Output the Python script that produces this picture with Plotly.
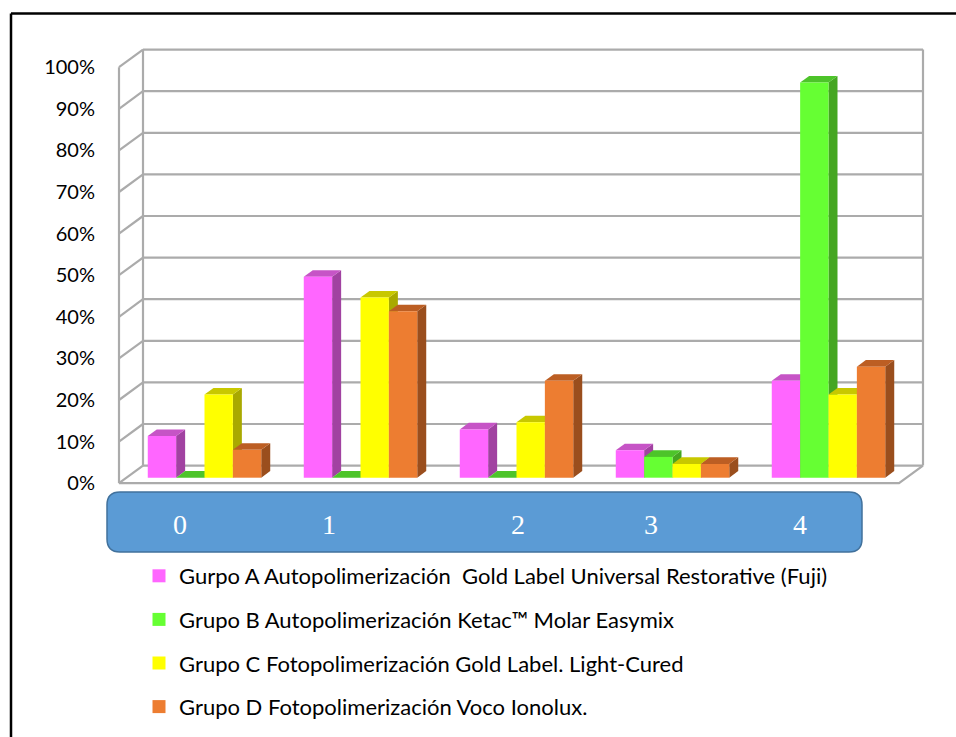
import plotly.graph_objects as go

# ---- data -------------------------------------------------------------
categories = ["0", "1", "2", "3", "4"]
series_names = [
    "Gurpo A Autopolimerización \u00a0Gold Label Universal Restorative (Fuji)",
    "Grupo B Autopolimerización Ketac™ Molar Easymix",
    "Grupo C Fotopolimerización Gold Label. Light-Cured",
    "Grupo D Fotopolimerización Voco Ionolux.",
]
grupo_a = [10.0, 48.3, 11.6, 6.6, 23.3]
grupo_b = [0.0, 0.0, 0.0, 5.0, 95.0]
grupo_c = [20.0, 43.3, 13.3, 3.3, 20.0]
grupo_d = [6.7, 40.0, 23.3, 3.3, 26.7]
y_ticks = [0, 10, 20, 30, 40, 50, 60, 70, 80, 90, 100]
y_tick_labels = [f"{t}%" for t in y_ticks]

series_values = [grupo_a, grupo_b, grupo_c, grupo_d]

# ---- styling ------------------------------------------------------------
front_colors = ["#FF66FF", "#66FF33", "#FFFF00", "#ED7D31"]
top_colors = ["#C654C6", "#4DC42A", "#C8C800", "#BC5E23"]
side_colors = ["#A142A1", "#45A622", "#A9A900", "#9A4E1D"]
grid_color = "#ABABAB"

FIG_W, FIG_H = 956, 737
L, R, T, B = 100, 16, 30, 237           # plot-area margins (px)
PW, PH = FIG_W - L - R, FIG_H - T - B
PX_PER_X = 156.0                         # px per category
PX_PER_Y = 4.16                          # px per percent
X_LEFT = -0.5 - (126.5 - L) / PX_PER_X
Y_BOTTOM = -(T + PH - 477.7) / PX_PER_Y
x_range = [X_LEFT, X_LEFT + PW / PX_PER_X]
y_range = [Y_BOTTOM, Y_BOTTOM + PH / PX_PER_Y]

# oblique depth of the 3-D box, in axis units
DX = 24.0 / PX_PER_X
DY = 17.6 / PX_PER_Y
FRONT = -0.3125                          # front plane relative to bar faces
BACK = 0.6875                            # back wall relative to bar faces
BAR_DEPTH = 0.375

GAP = 1.5                                # gap width as fraction of a bar
n_series = len(series_values)
bar_w = 1.0 / (n_series + GAP)

fig = go.Figure()


def add_line(xs, ys):
    fig.add_trace(go.Scatter(x=xs, y=ys, mode="lines", hoverinfo="skip",
                             line=dict(color=grid_color, width=2.2),
                             showlegend=False))


def add_poly(xs, ys, color):
    fig.add_trace(go.Scatter(x=xs + [xs[0]], y=ys + [ys[0]], mode="lines",
                             fill="toself", fillcolor=color, hoverinfo="skip",
                             line=dict(width=0, color=color),
                             showlegend=False))


xl, xr = -0.5, len(categories) - 0.5
bx, by = BACK * DX, BACK * DY
fx, fy = FRONT * DX, FRONT * DY

# back wall gridlines and side wall diagonals
for t in y_ticks:
    add_line([xl + bx, xr + bx], [t + by, t + by])
    add_line([xl + fx, xl + bx], [t + fy, t + by])
# vertical edges
add_line([xl + fx, xl + fx], [y_ticks[0] + fy, y_ticks[-1] + fy])
add_line([xl + bx, xl + bx], [y_ticks[0] + by, y_ticks[-1] + by])
add_line([xr + bx, xr + bx], [y_ticks[0] + by, y_ticks[-1] + by])
# floor front edge and right diagonal
add_line([xl + fx, xr + fx, xr + bx], [fy, fy, by])

# 3-D columns, painted from left to right
ddx, ddy = BAR_DEPTH * DX, BAR_DEPTH * DY
for g in range(len(categories)):
    for s in range(n_series):
        h = series_values[s][g]
        x0 = g - 0.5 + GAP * bar_w / 2 + s * bar_w
        x1 = x0 + bar_w
        add_poly([x1, x1 + ddx, x1 + ddx, x1], [0, ddy, h + ddy, h], side_colors[s])
        add_poly([x0, x1, x1 + ddx, x0 + ddx], [h, h, h + ddy, h + ddy], top_colors[s])
        add_poly([x0, x1, x1, x0], [0, 0, h, h], front_colors[s])

# legend entries
for s in range(n_series):
    fig.add_trace(go.Scatter(x=[None], y=[None], mode="markers", name=series_names[s],
                             legendgroup=f"g{s}",
                             marker=dict(symbol="square", size=13, color=front_colors[s],
                                         line=dict(width=0))))


def px_to_paper(px, py):
    return (px - L) / PW, 1 - (py - T) / PH


# rounded category banner
bx0, by0, bx1, by1, rad = 107, 492, 862, 552, 13
rx, ry = rad / PW, rad / PH
p0x, p0y = px_to_paper(bx0, by1)
p1x, p1y = px_to_paper(bx1, by0)
path = (f"M {p0x + rx},{p0y} L {p1x - rx},{p0y} Q {p1x},{p0y} {p1x},{p0y + ry} "
        f"L {p1x},{p1y - ry} Q {p1x},{p1y} {p1x - rx},{p1y} "
        f"L {p0x + rx},{p1y} Q {p0x},{p1y} {p0x},{p1y - ry} "
        f"L {p0x},{p0y + ry} Q {p0x},{p0y} {p0x + rx},{p0y} Z")
shapes = [dict(type="path", xref="paper", yref="paper", path=path,
               fillcolor="#5B9BD5", line=dict(color="#41719C", width=1.5))]

# outer frame lines (top and left)
fx0, fy0 = px_to_paper(11, 13.5)
fx1, _ = px_to_paper(FIG_W + 5, 13.5)
_, fy1 = px_to_paper(11, FIG_H + 5)
shapes.append(dict(type="line", xref="paper", yref="paper", x0=fx0, y0=fy0, x1=fx1, y1=fy0,
                   line=dict(color="black", width=2.5)))
shapes.append(dict(type="line", xref="paper", yref="paper", x0=fx0, y0=fy0, x1=fx0, y1=fy1,
                   line=dict(color="black", width=2.5)))

label_px = [180, 329, 518, 651, 800]
annotations = []
for lab, lx in zip(categories, label_px):
    ax, ay = px_to_paper(lx, 524)
    annotations.append(dict(x=ax, y=ay, xref="paper", yref="paper", text=lab,
                            showarrow=False, xanchor="center", yanchor="middle",
                            font=dict(family="Liberation Serif", size=28, color="white")))

leg_x, leg_y = px_to_paper(139, 555)

fig.update_layout(
    width=FIG_W, height=FIG_H, autosize=False,
    margin=dict(l=L, r=R, t=T, b=B, autoexpand=False),
    paper_bgcolor="white", plot_bgcolor="white",
    font=dict(family="Lato", size=20, color="#000000"),
    xaxis=dict(range=x_range, showgrid=False, zeroline=False, showticklabels=False,
               showline=False, fixedrange=True),
    yaxis=dict(range=y_range, showgrid=False, zeroline=False, showline=False,
               tickvals=[t + fy for t in y_ticks], ticktext=y_tick_labels,
               ticks="", ticklabelstandoff=4, fixedrange=True,
               tickfont=dict(family="Lato", size=20, color="#000000")),
    shapes=shapes,
    annotations=annotations,
    showlegend=True,
    legend=dict(x=leg_x, y=leg_y, xanchor="left", yanchor="top",
                orientation="v", traceorder="grouped", tracegroupgap=12,
                font=dict(family="Lato", size=22, color="#000000"),
                bgcolor="rgba(0,0,0,0)", itemclick=False, itemdoubleclick=False),
)

fig.write_html("out.html")
